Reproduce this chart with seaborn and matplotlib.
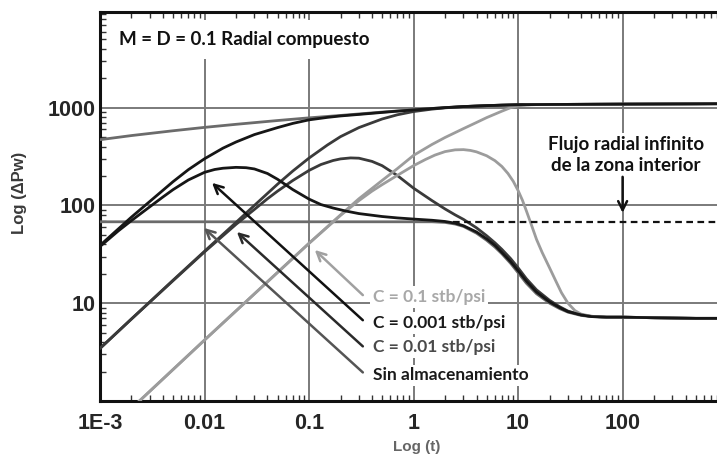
import numpy as np
import pandas as pd
import matplotlib
matplotlib.use("Agg")
import matplotlib.pyplot as plt
import seaborn as sns

# pressure curves: time (Log t) and value (Log dPw)
t_p_sin = [0.001, 0.002, 0.005, 0.01, 0.02, 0.05, 0.1, 0.2, 0.5, 1, 1.5, 2, 3, 5, 7, 10,
           15, 20, 30, 50, 100, 200, 500, 800]
p_sin = [470, 518, 580, 628, 675, 738, 786, 832, 900, 950, 980, 1000, 1025, 1048, 1060, 1070,
         1075, 1077, 1079, 1082, 1086, 1089, 1093, 1096]

t_p_001 = [0.001, 0.002, 0.003, 0.005, 0.007, 0.01, 0.015, 0.02, 0.03, 0.05, 0.07, 0.1,
           0.15, 0.2, 0.3, 0.5, 0.7, 1, 1.5, 2, 3, 5, 7, 10, 15, 20, 30, 50, 100, 200, 500, 800]
p_001 = [39, 76, 110, 175, 232, 300, 385, 445, 530, 625, 690, 750,
         795, 822, 852, 893, 920, 948, 979, 1000, 1025, 1048, 1060, 1070, 1075, 1077, 1079,
         1082, 1086, 1089, 1093, 1096]

t_p_01 = [0.001, 0.002, 0.005, 0.01, 0.02, 0.03, 0.05, 0.07, 0.1, 0.15, 0.2, 0.3, 0.5, 0.7,
          1, 1.5, 2, 3, 5, 7, 10, 15, 20, 30, 50, 100, 200, 500, 800]
p_01 = [3.45, 6.9, 17.2, 34, 67, 100, 165, 225, 305, 415, 505, 625, 765, 845,
        912, 965, 995, 1025, 1048, 1060, 1070, 1075, 1077, 1079, 1082, 1086, 1089, 1093, 1096]

t_p_1 = [0.001, 0.01, 0.1, 0.2, 0.3, 0.5, 0.7, 1, 1.5, 2, 3, 4, 5, 7, 8.5, 10, 12, 15, 20,
         30, 50, 100, 200, 500, 800]
p_1 = [0.42, 4.2, 41, 80, 117, 180, 238, 325, 420, 495, 610, 705, 790, 920, 1000, 1045, 1065,
       1074, 1077, 1079, 1082, 1086, 1089, 1093, 1096]

# derivative curves
t_d_sin = [0.001, 1, 1.5, 2, 2.5, 3, 4, 5, 6, 7, 8.5, 10, 12, 15, 20, 25, 30, 40, 50, 70,
           100, 200, 500, 800]
d_sin = [68, 68, 68, 67, 64.5, 61, 52, 44, 37.5, 32, 25.5, 20.5, 16, 12.5, 10, 8.8, 8.1, 7.5,
         7.3, 7.2, 7.2, 7.1, 7.0, 7.0]

t_d_001 = [0.001, 0.0015, 0.002, 0.003, 0.004, 0.005, 0.007, 0.01, 0.0125, 0.015, 0.02, 0.025,
           0.03, 0.04, 0.05, 0.07, 0.1, 0.13, 0.17, 0.22, 0.3, 0.5, 0.7, 1, 1.5, 2, 2.5, 3,
           4, 5, 6, 7, 8.5, 10, 12, 15, 20, 25, 30, 40, 50, 70, 100, 200, 500, 800]
d_001 = [38, 55, 70, 97, 122, 145, 182, 218, 233, 240, 245, 243,
         236, 212, 185, 145, 116, 102, 94, 88, 82.5, 77, 74.5, 72.5, 70.5, 68.5, 65.8, 62,
         53.5, 45.5, 39, 33, 26.5, 21.5, 16.8, 13, 10.3, 9, 8.2, 7.6, 7.3, 7.2, 7.2, 7.1, 7.0, 7.0]

t_d_01 = [0.001, 0.002, 0.005, 0.01, 0.02, 0.03, 0.04, 0.05, 0.07, 0.1, 0.13, 0.17, 0.2, 0.25,
          0.3, 0.4, 0.5, 0.7, 1, 1.5, 2, 2.5, 3, 4, 5, 6, 7, 8.5, 10, 12, 15, 20, 25, 30, 40,
          50, 70, 100, 200, 500, 800]
d_01 = [3.45, 6.9, 17, 33.5, 64, 91, 117, 140, 180, 228, 262, 288, 299, 306,
        304, 282, 255, 202, 150, 112, 92, 80, 72, 59, 49, 41.5, 35.5, 28.5, 23, 17.8, 13.7,
        10.7, 9.2, 8.3, 7.6, 7.35, 7.2, 7.2, 7.1, 7.0, 7.0]

t_d_1 = [0.001, 0.01, 0.1, 0.2, 0.3, 0.4, 0.5, 0.7, 1, 1.3, 1.6, 2, 2.5, 3, 3.5, 4, 5, 6, 7,
         8, 9, 10, 11, 12, 13.5, 15, 17, 20, 23, 26, 30, 35, 40, 50, 70, 100, 200, 500, 800]
d_1 = [0.42, 4.2, 41, 79, 112, 140, 163, 203, 255, 295, 327, 355, 370, 372, 365, 353, 322,
       287, 250, 212, 176, 142, 113, 88, 62, 45, 33, 23, 16.8, 12.8, 10.0, 8.4, 7.75, 7.35,
       7.2, 7.2, 7.1, 7.0, 7.0]

# infinite radial flow of the inner zone (dashed)
t_dash = [2.4, 800]
v_dash = [68, 68]

xticks = [0.001, 0.01, 0.1, 1, 10, 100]
xticklabels = ["1E-3", "0.01", "0.1", "1", "10", "100"]
yticks = [10, 100, 1000]
yticklabels = ["10", "100", "1000"]

c_sin = "#6b6b6b"
c_001 = "#161616"
c_01 = "#3a3a3a"
c_1 = "#9c9c9c"

sns.set_style("white")
plt.rcParams["font.family"] = ["Liberation Sans", "DejaVu Sans"]

fig = plt.figure(figsize=(7.17, 4.55), dpi=100)
ax = fig.add_axes([0.1395, 0.1187, 0.8605, 0.8549])
ax.set(xscale="log", yscale="log")

lw = 2.0
sns.lineplot(x=t_p_sin, y=p_sin, color=c_sin, lw=lw, ax=ax, zorder=3)
sns.lineplot(x=t_d_sin, y=d_sin, color=c_sin, lw=lw, ax=ax, zorder=3)
sns.lineplot(x=t_p_01, y=p_01, color=c_01, lw=lw, ax=ax, zorder=3)
sns.lineplot(x=t_d_01, y=d_01, color=c_01, lw=lw, ax=ax, zorder=3)
sns.lineplot(x=t_p_1, y=p_1, color=c_1, lw=lw, ax=ax, zorder=3)
sns.lineplot(x=t_d_1, y=d_1, color=c_1, lw=lw, ax=ax, zorder=3)
sns.lineplot(x=t_p_001, y=p_001, color=c_001, lw=lw, ax=ax, zorder=4)
sns.lineplot(x=t_d_001, y=d_001, color=c_001, lw=lw, ax=ax, zorder=4)
sns.lineplot(x=t_dash, y=v_dash, color="#111111", lw=1.6, ls=(0, (3, 2)), ax=ax, zorder=3)

ax.set_xlim(0.001, 800)
ax.set_ylim(1, 9500)
ax.set_xticks(xticks)
ax.set_xticklabels(xticklabels)
ax.set_yticks(yticks)
ax.set_yticklabels(yticklabels)
ax.set_xlabel("")
ax.set_ylabel("")
for lab in ax.get_xticklabels() + ax.get_yticklabels():
    lab.set_fontweight("bold")
    lab.set_fontsize(15.5)
ax.tick_params(axis="x", which="major", length=0, pad=9)
ax.tick_params(axis="y", which="major", length=0, pad=3)
ax.tick_params(which="minor", direction="in", length=4, width=1, color="#333333",
               top=True, left=True, bottom=True, right=False)
ax.grid(which="major", color="#7a7a7a", lw=1.4, zorder=1)
ax.set_axisbelow(True)
for side in ["left", "bottom", "top"]:
    ax.spines[side].set_color("#111111")
    ax.spines[side].set_linewidth(2.2)
ax.spines["right"].set_visible(False)

txt = dict(family=["Lato", "DejaVu Sans"], fontweight="bold", zorder=6)
box = dict(facecolor="white", edgecolor="none", pad=2)

ax.text(0.00152, 4980, "M = D = 0.1 Radial compuesto", fontsize=13.5, color="#111111",
        ha="left", va="center", bbox=dict(facecolor="white", edgecolor="none", pad=8), **txt)
ax.text(107, 330, "Flujo radial infinito\nde la zona interior", fontsize=13.5, color="#111111",
        ha="center", va="center", linespacing=1.3, bbox=box, **txt)
ax.annotate("", xy=(100, 84), xytext=(100, 196),
            arrowprops=dict(arrowstyle="->", color="#111111", lw=1.8, mutation_scale=16,
                            shrinkA=0, shrinkB=0), zorder=6)

labels = [("C = 0.1 stb/psi", 11.5, "#a8a8a8", (0.1135, 35), (0.327, 12.1), "#a0a0a0"),
          ("C = 0.001 stb/psi", 6.24, "#1a1a1a", (0.0118, 170), (0.327, 6.7), "#111111"),
          ("C = 0.01 stb/psi", 3.54, "#4a4a4a", (0.0204, 53.5), (0.327, 3.62), "#2a2a2a"),
          ("Sin almacenamiento", 1.83, "#1a1a1a", (0.00987, 58.8), (0.327, 1.96), "#555555")]
for text, yv, tc, head, tail, ac in labels:
    ax.text(0.41, yv, text, fontsize=12.5, color=tc, ha="left", va="center", bbox=box, **txt)
    ax.annotate("", xy=head, xytext=tail,
                arrowprops=dict(arrowstyle="->", color=ac, lw=1.8, mutation_scale=16,
                                shrinkA=0, shrinkB=0), zorder=5)

fig.text(20 / 717, 1 - 193 / 455, "Log (\u0394Pw)", rotation=90, ha="center", va="center",
         fontsize=12, fontweight="bold", color="#3a3a3a")
fig.text(417 / 717, 1 - 447 / 455, "Log (t)", ha="center", va="center",
         fontsize=11, fontweight="bold", color="#666666")

fig.savefig("out.png", dpi=100)
